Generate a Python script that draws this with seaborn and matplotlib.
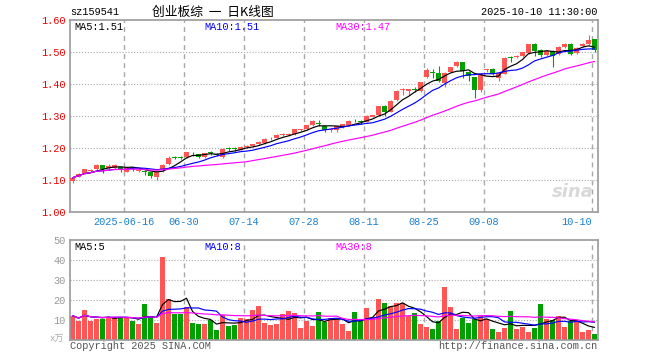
import numpy as np
import pandas as pd
import matplotlib
matplotlib.use("Agg")
import matplotlib.pyplot as plt
import seaborn as sns

# ---------------- data ----------------
opens = [1.097, 1.110, 1.121, 1.128, 1.133, 1.147, 1.137, 1.137, 1.140, 1.126,
         1.140, 1.127, 1.129, 1.124, 1.110, 1.130, 1.150, 1.172, 1.172, 1.171,
         1.187, 1.180, 1.172, 1.186, 1.182, 1.173, 1.200, 1.199, 1.195, 1.202,
         1.205, 1.214, 1.216, 1.230, 1.232, 1.241, 1.242, 1.243, 1.256, 1.259,
         1.271, 1.279, 1.268, 1.256, 1.255, 1.266, 1.273, 1.285, 1.284, 1.282,
         1.298, 1.303, 1.331, 1.314, 1.350, 1.380, 1.379, 1.385, 1.377, 1.421,
         1.437, 1.435, 1.402, 1.438, 1.455, 1.469, 1.437, 1.421, 1.382, 1.445,
         1.448, 1.418, 1.432, 1.485, 1.483, 1.486, 1.497, 1.525, 1.506, 1.490,
         1.503, 1.494, 1.515, 1.525, 1.497, 1.519, 1.525, 1.540]
highs = [1.110, 1.122, 1.135, 1.134, 1.150, 1.148, 1.149, 1.150, 1.143, 1.140,
         1.141, 1.132, 1.130, 1.125, 1.126, 1.150, 1.174, 1.176, 1.175, 1.189,
         1.188, 1.181, 1.185, 1.190, 1.184, 1.200, 1.204, 1.202, 1.206, 1.208,
         1.214, 1.222, 1.230, 1.235, 1.243, 1.246, 1.246, 1.259, 1.260, 1.272,
         1.286, 1.286, 1.270, 1.262, 1.269, 1.276, 1.286, 1.290, 1.286, 1.302,
         1.304, 1.332, 1.333, 1.349, 1.380, 1.386, 1.385, 1.390, 1.407, 1.450,
         1.446, 1.455, 1.436, 1.454, 1.472, 1.470, 1.440, 1.423, 1.434, 1.448,
         1.450, 1.436, 1.484, 1.489, 1.490, 1.501, 1.526, 1.528, 1.510, 1.505,
         1.505, 1.518, 1.527, 1.527, 1.516, 1.527, 1.553, 1.542]
lows = [1.092, 1.108, 1.119, 1.125, 1.131, 1.123, 1.135, 1.135, 1.124, 1.124,
        1.128, 1.125, 1.117, 1.107, 1.100, 1.126, 1.148, 1.165, 1.166, 1.170,
        1.176, 1.168, 1.170, 1.178, 1.174, 1.170, 1.192, 1.192, 1.193, 1.199,
        1.203, 1.209, 1.214, 1.226, 1.230, 1.236, 1.238, 1.241, 1.252, 1.257,
        1.269, 1.270, 1.250, 1.250, 1.250, 1.264, 1.271, 1.280, 1.276, 1.280,
        1.296, 1.301, 1.300, 1.312, 1.348, 1.367, 1.365, 1.376, 1.375, 1.419,
        1.420, 1.405, 1.390, 1.436, 1.453, 1.418, 1.410, 1.355, 1.375, 1.437,
        1.428, 1.410, 1.430, 1.470, 1.480, 1.484, 1.495, 1.489, 1.484, 1.488,
        1.452, 1.492, 1.513, 1.492, 1.495, 1.517, 1.523, 1.500]
closes = [1.107, 1.120, 1.133, 1.131, 1.147, 1.134, 1.144, 1.147, 1.134, 1.138,
          1.138, 1.130, 1.124, 1.111, 1.124, 1.148, 1.170, 1.170, 1.170, 1.187,
          1.186, 1.172, 1.183, 1.183, 1.178, 1.197, 1.198, 1.197, 1.204, 1.205,
          1.212, 1.218, 1.229, 1.232, 1.242, 1.243, 1.244, 1.258, 1.258, 1.271,
          1.284, 1.276, 1.257, 1.259, 1.268, 1.275, 1.285, 1.283, 1.282, 1.300,
          1.303, 1.331, 1.314, 1.347, 1.378, 1.384, 1.383, 1.380, 1.405, 1.443,
          1.434, 1.408, 1.435, 1.452, 1.470, 1.440, 1.424, 1.380, 1.432, 1.447,
          1.432, 1.434, 1.482, 1.482, 1.486, 1.499, 1.525, 1.502, 1.492, 1.503,
          1.486, 1.516, 1.525, 1.495, 1.514, 1.525, 1.537, 1.505]
volumes = [12.2, 9.7, 15.0, 9.7, 10.5, 10.5, 11.7, 11.7, 11.7, 10.8,
           9.7, 8.0, 18.0, 12.2, 8.7, 41.7, 20.5, 12.8, 12.8, 16.7,
           8.7, 8.0, 8.0, 10.0, 5.0, 12.5, 7.2, 7.5, 11.2, 10.5,
           15.0, 17.0, 8.7, 7.5, 8.0, 13.0, 14.5, 13.7, 6.2, 9.7,
           7.2, 14.0, 9.2, 11.0, 10.5, 8.0, 4.5, 14.0, 10.5, 16.0,
           11.5, 20.5, 18.5, 17.0, 18.5, 18.5, 12.0, 13.5, 8.0, 6.7,
           5.5, 9.5, 26.5, 16.7, 5.5, 11.2, 8.5, 10.7, 12.0, 10.5,
           5.5, 4.0, 6.0, 14.5, 5.5, 6.5, 4.0, 6.0, 18.0, 10.5,
           10.0, 12.0, 6.5, 9.5, 10.0, 4.0, 5.0, 3.0]

tick_idx = [9, 19, 29, 39, 49, 59, 69, 87]
tick_labels = ["2025-06-16", "06-30", "07-14", "07-28", "08-11", "08-25", "09-08", "10-10"]
price_ticks = [1.00, 1.10, 1.20, 1.30, 1.40, 1.50, 1.60]
vol_ticks = [10, 20, 30, 40, 50]

code_text = "sz159541"
title_text = "创业板综  一  日K线图"
time_text = "2025-10-10 11:30:00"
price_ma_labels = ["MA5:1.51", "MA10:1.51", "MA30:1.47"]
vol_ma_labels = ["MA5:5", "MA10:8", "MA30:8"]
unit_text = "x万"
copyright_text = "Copyright 2025 SINA.COM"
url_text = "http://finance.sina.com.cn"

# ---------------- style ----------------
sns.set_theme(style="white")
plt.rcParams["font.family"] = ["Liberation Mono", "Noto Sans CJK SC", "DejaVu Sans"]

RED = "#ff5555"
GREEN = "#00a000"
GRID = "#a8a8a8"
SPINE = "#9a9a9a"
MA_COLORS = ["#000000", "#0000ff", "#ff00ff"]
FS = 7.4

W, H = 660, 360
fig = plt.figure(figsize=(6.6, 3.6), dpi=100)
fig.patch.set_facecolor("white")


def rect(l, t, r, b):
    return [l / W, 1 - b / H, (r - l) / W, (b - t) / H]


ax = fig.add_axes(rect(70, 20, 598, 212))
axv = fig.add_axes(rect(70, 240, 598, 340))

n = len(closes)
centers = np.arange(n) + 5 / 12
df = pd.DataFrame({"x": centers, "open": opens, "high": highs, "low": lows,
                   "close": closes, "vol": volumes})
up = df["close"] >= df["open"]
colors = np.where(up, RED, GREEN)

for a in (ax, axv):
    a.set_xlim(0, n)
    for s in a.spines.values():
        s.set_color(SPINE)
        s.set_linewidth(1.2)
    for i in tick_idx:
        a.axvline(i, color=GRID, lw=1.0, ls=(0, (3.5, 3)), zorder=0.5)

# ---- price panel ----
ax.set_ylim(1.0, 1.6)
for yv in price_ticks[1:-1]:
    ax.axhline(yv, color=GRID, lw=0.8, ls=(0, (1, 1.6)), zorder=0.5)
body_bottom = np.minimum(df["open"], df["close"])
body_h = np.maximum((df["close"] - df["open"]).abs(), 0.0025)
ax.vlines(df["x"], df["low"], df["high"], colors=colors, linewidth=0.8, zorder=2)
ax.bar(df["x"], body_h, bottom=body_bottom, width=5 / 6, color=colors,
       linewidth=0, zorder=3)
for win, col in zip([5, 10, 30], MA_COLORS):
    ma = df["close"].rolling(win, min_periods=1).mean()
    sns.lineplot(x=df["x"], y=ma, ax=ax, color=col, linewidth=0.85, legend=False, zorder=4)
ax.set_xlabel("")
ax.set_ylabel("")
ax.set_yticks(price_ticks)
ax.set_yticklabels([f"{v:.2f}" for v in price_ticks], color="#ee0000", fontsize=FS)
ax.set_xticks(tick_idx)
ax.set_xticklabels(tick_labels, color="#1a80d0", fontsize=FS)
ax.tick_params(axis="both", length=0)
ax.tick_params(axis="y", pad=3)
ax.tick_params(axis="x", pad=3.5)
xl = ax.get_xticklabels()
xl[-1].set_ha("right")

ax.text(0.992, 0.055, "sina", transform=ax.transAxes, ha="right", va="bottom",
        fontsize=13, fontstyle="italic", fontweight="bold", color="#d9d9d9",
        family="DejaVu Sans", zorder=1)

# ---- volume panel ----
axv.set_ylim(0, 50)
for yv in vol_ticks[:-1]:
    axv.axhline(yv, color=GRID, lw=0.8, ls=(0, (1, 1.6)), zorder=0.5)
axv.bar(df["x"], df["vol"], width=5 / 6, color=colors, linewidth=0, zorder=2)
for win, col in zip([5, 10, 30], MA_COLORS):
    ma = df["vol"].rolling(win, min_periods=1).mean()
    sns.lineplot(x=df["x"], y=ma, ax=axv, color=col, linewidth=0.85, legend=False, zorder=4)
axv.set_xlabel("")
axv.set_ylabel("")
axv.set_xticks([])
axv.set_yticks(vol_ticks)
axv.set_yticklabels([str(v) for v in vol_ticks], color="#999999", fontsize=FS)
axv.tick_params(axis="both", length=0)
axv.tick_params(axis="y", pad=3)

# ---- texts ----
def ftext(x, y, s, **kw):
    fig.text(x / W, 1 - y / H, s, **kw)

ftext(70, 12, code_text, ha="left", va="center", fontsize=FS, color="black")
ftext(213, 12, title_text, ha="center", va="center", fontsize=9.2,
      color="black", family=["Noto Sans CJK SC", "DejaVu Sans"])
ftext(597, 12, time_text, ha="right", va="center", fontsize=FS, color="black")

for xpos, lab, col in zip([74, 204, 335], price_ma_labels, MA_COLORS):
    ftext(xpos, 26.5, lab, ha="left", va="center", fontsize=FS, color=col)
for xpos, lab, col in zip([74, 204, 335], vol_ma_labels, MA_COLORS):
    ftext(xpos, 246.5, lab, ha="left", va="center", fontsize=FS, color=col)

ftext(64, 339, unit_text, ha="right", va="center", fontsize=6.5, color="#aaaaaa",
      family=["Liberation Mono", "Noto Sans CJK SC"])
ftext(70, 346, copyright_text, ha="left", va="center", fontsize=FS, color="#555555")
ftext(597, 346, url_text, ha="right", va="center", fontsize=FS, color="#555555")

fig.savefig("out.png", dpi=100, facecolor="white")
